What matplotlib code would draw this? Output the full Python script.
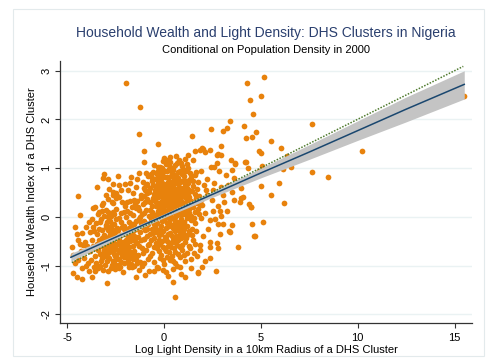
import matplotlib
matplotlib.use('Agg')
import matplotlib.pyplot as plt
from matplotlib.patches import Rectangle
import numpy as np

plt.rcParams['font.family'] = ['Liberation Sans', 'DejaVu Sans']
plt.rcParams['axes.unicode_minus'] = False

# (log light density, wealth index) per DHS cluster
outer_pts = [
    (-1.96, 2.74), (-1.24, 2.26), (-1.29, 1.71), (-1.0, 1.35), (-1.0, 1.12), (-0.29, 1.50),
    (1.46, 1.66), (2.42, 1.81), (3.40, 1.96), (3.06, 1.77), (3.28, 1.83), (4.29, 2.74),
    (4.42, 2.40), (4.60, 2.11), (5.15, 2.88), (5.0, 2.49), (4.16, 1.87), (4.26, 1.62),
    (4.54, 1.64), (4.74, 1.75), (4.90, 1.36), (5.02, 1.31), (4.21, 1.12), (4.35, 1.0),
    (3.68, 1.10), (3.44, 1.17), (2.97, 1.27), (2.77, 1.29), (2.94, 1.46), (2.37, 1.38),
    (5.04, 1.04), (4.86, 0.88), (5.0, 0.64), (4.0, 0.59), (3.64, 0.79), (4.06, 0.40),
    (-4.42, 0.42), (-3.47, 0.62), (-3.16, 0.79), (-3.08, 0.88), (-2.89, 0.77), (-2.39, 0.83),
    (-2.32, 0.66), (-2.82, 0.57), (-2.64, 0.52), (-2.49, 0.49), (-2.44, 0.42), (-1.70, 0.81),
    (-1.43, 0.62), (-1.30, 0.91), (-0.94, 0.90), (-0.67, 0.86), (-0.63, 0.79), (-0.29, 1.03),
    (-0.07, 1.14), (0.0, 1.20), (0.22, 1.17), (0.34, 1.23), (0.65, 1.24), (0.79, 1.17),
    (1.08, 1.18), (1.27, 1.27), (1.48, 1.17), (1.63, 1.36), (1.86, 1.38), (2.0, 1.40),
    (2.10, 1.33), (2.41, 1.03), (2.72, 1.10), (7.63, 1.90), (5.55, 1.55), (6.05, 1.42),
    (6.34, 1.24), (10.21, 1.36), (4.81, 0.86), (6.15, 0.98), (6.55, 1.02), (7.64, 0.92),
    (8.49, 0.81), (5.94, 0.70), (5.55, 0.45), (15.48, 2.48), (6.2, 0.28), (4.48, 0.21),
    (4.55, -0.14), (5.12, -0.10), (4.67, -0.39), (-4.33, 0.04), (-4.59, -0.20), (-4.76, -0.61),
    (-4.71, -0.78), (-4.68, -1.16), (-4.47, -1.24), (-4.24, -1.28), (-4.45, -0.88), (-2.95, -1.36),
    (-1.46, -1.23), (0.57, -1.64), (0.48, -1.33), (1.10, -1.23), (1.77, -1.16), (2.68, -1.12),
    (1.99, -1.04), (2.37, -0.85), (2.77, -0.65), (3.83, -0.61), (3.52, -0.16), (3.37, -0.30),
    (3.97, 0.38), (4.38, 0.27), (0.22, -1.21), (-0.07, -1.10), (1.74, -1.14), (1.39, -1.05),
    (0.82, -1.02), (1.86, -0.68), (2.37, -0.61), (-3.73, -1.23), (-3.56, -1.12), (-3.85, -1.11),
    (-3.13, -1.09), (-2.30, -1.05), (-1.66, -1.04), (-0.98, -1.19), (-0.76, -1.12), (-0.50, -1.11),
    (-0.38, -1.02), (-2.61, -1.02), (-3.30, -1.00), (-4.02, -1.00), (-3.64, 0.18), (-3.56, 0.21),
    (-3.13, 0.28), (-3.33, 0.09), (-3.85, -0.10), (-3.64, -0.20), (-4.24, -0.34), (-3.81, -0.32),
    (-4.42, -0.47), (-4.07, -0.51), (-4.16, -0.57), (-2.61, 0.45), (3.11, 0.31), (3.92, 0.31),
    (4.52, 0.20), (2.77, 0.23), (2.51, 0.11), (2.89, 0.13), (2.97, 0.01), (2.11, 0.08),
    (1.94, -0.03), (2.37, -0.06), (2.80, -0.14), (3.06, -0.15), (3.40, -0.31), (4.69, -0.40),
    (1.68, -0.30), (2.02, -0.40), (2.37, -0.51), (2.72, -0.54), (1.86, -0.57), (1.51, -0.47),
    (1.99, 1.41), (2.75, 1.27), (3.66, 1.08), (4.23, 1.12), (3.54, 0.97), (2.59, 1.03),
    (2.82, 0.94), (3.87, 0.72), (2.94, 0.62), (3.49, 0.50), (2.54, 0.55), (4.85, 0.90),
    (4.90, 0.95), (1.65, 0.92), (2.25, 0.78), (2.5, 0.35), (2.15, 0.55), (1.95, 0.25),
    (2.3, -0.25), (2.6, 0.7), (3.2, 0.85), (3.05, 0.45), (1.7, -0.8), (2.1, -0.9),
    (1.55, -0.75), (2.9, -0.35), (3.25, 0.12), (2.65, -0.05), (3.6, 0.35), (3.3, 0.65),
]

left_pts = [
    (-3.2, 0.24), (-2.9, 0.36), (-2.6, 0.28), (-2.3, 0.41), (-2.0, 0.22), (-1.75, 0.33),
    (-1.5, 0.26), (-1.2, 0.38), (-2.15, 0.3), (-1.35, 0.21), (-3.4, 0.05), (-3.0, 0.14),
    (-2.75, 0.02), (-2.45, 0.17), (-2.2, 0.08), (-1.9, 0.12), (-1.6, 0.03), (-1.3, 0.15),
    (-2.6, 0.1), (-1.45, 0.19), (-1.15, 0.06), (-3.5, -0.12), (-3.25, -0.05), (-3.0, -0.17),
    (-2.8, -0.08), (-2.55, -0.14), (-2.3, -0.02), (-2.05, -0.19), (-1.8, -0.1), (-1.55, -0.15),
    (-1.3, -0.04), (-2.9, -0.01), (-1.7, -0.18), (-1.2, -0.13), (-3.6, -0.3), (-3.35, -0.24),
    (-3.1, -0.37), (-2.9, -0.27), (-2.65, -0.33), (-2.4, -0.22), (-2.2, -0.38), (-1.95, -0.29),
    (-1.7, -0.35), (-1.45, -0.25), (-1.25, -0.32), (-3.0, -0.21), (-2.5, -0.39), (-2.05, -0.26),
    (-1.55, -0.39), (-3.7, -0.48), (-3.45, -0.56), (-3.2, -0.44), (-3.0, -0.53), (-2.75, -0.46),
    (-2.55, -0.58), (-2.35, -0.42), (-2.1, -0.51), (-1.9, -0.57), (-1.65, -0.45), (-1.4, -0.54),
    (-1.2, -0.47), (-3.3, -0.59), (-2.85, -0.41), (-2.25, -0.55), (-1.75, -0.5), (-3.8, -0.71),
    (-3.55, -0.64), (-3.3, -0.77), (-3.1, -0.68), (-2.9, -0.74), (-2.7, -0.62), (-2.45, -0.79),
    (-2.25, -0.66), (-2.0, -0.73), (-1.8, -0.61), (-1.55, -0.7), (-1.35, -0.78), (-1.15, -0.65),
    (-3.4, -0.69), (-2.6, -0.72), (-2.1, -0.63), (-1.65, -0.76), (-3.75, -0.88), (-3.5, -0.95),
    (-3.2, -0.84), (-2.95, -0.91), (-2.7, -0.98), (-2.45, -0.86), (-2.2, -0.93), (-1.95, -0.82),
    (-1.7, -0.96), (-1.45, -0.87), (-1.25, -0.92), (-3.05, -0.81), (-2.35, -0.99), (-1.85, -0.89),
    (-3.4, -1.06), (-2.9, -1.12), (-2.5, -1.08), (-2.1, -1.14), (-1.8, -1.03), (-1.3, -1.1),
    (-4.6, -0.95), (-4.3, -0.7), (-4.1, -0.85), (-3.95, -0.6), (-4.5, -0.35), (-4.2, -1.05),
    (-3.9, -0.95), (-4.0, -0.2), (-4.35, -0.55), (-3.7, -0.05), (-1.2, 0.45), (-0.95, 0.55),
    (-1.1, 0.72), (-0.85, 0.68), (-1.55, 0.35), (-1.85, 0.55), (-2.0, 0.68), (-1.6, 0.48),
    (-3.15, -0.6), (-2.95, -0.62), (-2.8, -0.55), (-2.65, -0.5), (-2.5, -0.64), (-2.4, -0.55),
    (-2.15, -0.6), (-1.98, -0.48), (-1.85, -0.68), (-1.6, -0.6), (-3.25, -0.9), (-3.05, -0.98),
    (-2.85, -0.84), (-2.6, -0.9), (-2.5, -0.81), (-2.3, -0.86), (-2.05, -0.95), (-1.9, -0.77),
    (-1.6, -0.86), (-1.4, -0.95), (-3.2, -0.28), (-3.05, -0.42), (-2.8, -0.36), (-2.7, -0.24),
    (-2.45, -0.3), (-2.3, -0.47), (-2.15, -0.2), (-1.85, -0.4), (-1.6, -0.3), (-1.35, -0.42),
    (-3.3, -0.1), (-3.1, 0.02), (-2.95, -0.1), (-2.68, -0.15), (-2.45, -0.05), (-2.2, -0.1),
    (-1.95, 0.0), (-1.75, 0.08), (-1.45, -0.08), (-1.25, 0.0), (-3.55, -0.8), (-3.6, -1.02),
    (-3.45, -0.35), (-3.65, -0.6), (-3.35, -0.48), (-3.15, -0.75), (-2.75, -0.7), (-2.55, -0.95),
    (-2.35, -0.68), (-2.15, -0.78), (-1.95, -0.6), (-1.75, -0.85), (-1.5, -0.5), (-1.3, -0.6),
    (-1.1, -0.75), (-1.05, -0.45), (-1.1, -0.2), (-1.0, -0.95), (-1.15, -1.0), (-1.55, -1.0),
    (-2.85, -0.2), (-2.6, -0.42), (-2.35, -0.28), (-2.0, -0.36), (-1.8, -0.22), (-1.65, -0.15),
    (-2.55, 0.05), (-2.05, 0.1), (-2.9, 0.1), (-3.2, 0.12), (-2.7, 0.3), (-2.45, 0.38),
    (-1.9, 0.3), (-1.65, 0.2), (-1.4, 0.32), (-3.0, 0.45), (-2.2, 0.55), (-1.75, 0.7),
    (-1.4, 0.78), (-2.6, 0.68), (-3.0, -0.7), (-2.85, -0.62), (-2.55, -0.76), (-2.25, -0.72),
    (-2.05, -0.82), (-1.85, -0.95), (-1.7, -0.72), (-1.5, -0.78), (-2.75, -1.05), (-2.25, -1.02),
]

core_pts = [
    (-0.5, 1.06), (-0.2, 1.02), (0.1, 1.09), (0.45, 1.01), (0.7, 1.11), (0.95, 1.04),
    (1.2, 1.08), (0.3, 1.13), (-0.1, 1.0), (-0.8, 0.84), (-0.55, 0.93), (-0.35, 0.88),
    (-0.05, 0.97), (0.15, 0.82), (0.4, 0.91), (0.55, 0.86), (0.85, 0.95), (1.05, 0.83),
    (1.35, 0.9), (1.6, 0.85), (0.25, 0.98), (0.7, 0.81), (-0.25, 0.8), (1.9, 0.94),
    (-0.9, 0.66), (-0.6, 0.73), (-0.4, 0.62), (-0.15, 0.77), (0.0, 0.68), (0.2, 0.71),
    (0.35, 0.64), (0.5, 0.78), (0.65, 0.69), (0.8, 0.61), (0.95, 0.74), (1.1, 0.67),
    (1.3, 0.76), (1.5, 0.63), (1.75, 0.72), (2.05, 0.66), (0.1, 0.61), (0.45, 0.7),
    (0.75, 0.79), (-0.3, 0.7), (1.2, 0.6), (-1.0, 0.43), (-0.75, 0.52), (-0.5, 0.47),
    (-0.3, 0.58), (-0.1, 0.41), (0.05, 0.55), (0.2, 0.49), (0.3, 0.42), (0.45, 0.57),
    (0.6, 0.46), (0.7, 0.53), (0.85, 0.44), (1.0, 0.59), (1.15, 0.48), (1.3, 0.41),
    (1.45, 0.54), (1.6, 0.47), (1.8, 0.42), (0.15, 0.58), (0.55, 0.4), (0.9, 0.51),
    (-0.2, 0.48), (0.4, 0.5), (2.2, 0.45), (-1.1, 0.27), (-0.85, 0.36), (-0.6, 0.22),
    (-0.45, 0.33), (-0.25, 0.25), (-0.05, 0.38), (0.1, 0.29), (0.25, 0.21), (0.35, 0.35),
    (0.5, 0.27), (0.6, 0.39), (0.75, 0.24), (0.9, 0.32), (1.05, 0.26), (1.2, 0.37),
    (1.35, 0.23), (1.55, 0.31), (1.7, 0.28), (0.0, 0.22), (0.4, 0.3), (0.65, 0.31),
    (0.85, 0.38), (1.0, 0.21), (0.2, 0.36), (-0.15, 0.3), (1.9, 0.35), (-1.0, 0.07),
    (-0.7, 0.15), (-0.5, 0.03), (-0.3, 0.12), (-0.1, 0.18), (0.05, 0.05), (0.2, 0.14),
    (0.3, 0.01), (0.45, 0.09), (0.55, 0.19), (0.7, 0.04), (0.8, 0.12), (0.95, 0.17),
    (1.1, 0.06), (1.25, 0.13), (1.4, 0.02), (1.6, 0.1), (0.1, 0.11), (0.35, 0.17),
    (0.6, 0.08), (0.9, 0.03), (-0.2, 0.06), (0.25, 0.08), (1.75, 0.16), (-1.05, -0.08),
    (-0.8, -0.15), (-0.55, -0.03), (-0.35, -0.12), (-0.15, -0.18), (0.0, -0.06), (0.15, -0.13),
    (0.3, -0.02), (0.45, -0.17), (0.6, -0.09), (0.75, -0.14), (0.9, -0.04), (1.05, -0.11),
    (1.2, -0.19), (1.4, -0.07), (0.2, -0.19), (0.5, -0.05), (0.8, -0.1), (-0.45, -0.19),
    (1.6, -0.13), (-0.95, -0.27), (-0.7, -0.35), (-0.45, -0.24), (-0.25, -0.38), (-0.05, -0.29),
    (0.1, -0.22), (0.3, -0.33), (0.5, -0.26), (0.65, -0.39), (0.85, -0.23), (1.0, -0.31),
    (1.2, -0.37), (1.45, -0.25), (0.2, -0.36), (0.55, -0.3), (-0.35, -0.31), (0.95, -0.4),
    (-1.0, -0.46), (-0.75, -0.55), (-0.5, -0.43), (-0.3, -0.58), (-0.1, -0.49), (0.1, -0.41),
    (0.3, -0.53), (0.45, -0.47), (0.7, -0.57), (0.9, -0.44), (1.1, -0.52), (1.3, -0.59),
    (0.2, -0.6), (0.6, -0.42), (-0.2, -0.55), (-0.9, -0.68), (-0.6, -0.75), (-0.35, -0.63),
    (-0.15, -0.79), (0.05, -0.66), (0.25, -0.72), (0.5, -0.64), (0.75, -0.77), (0.95, -0.69),
    (1.2, -0.74), (0.4, -0.8), (-0.5, -0.61), (-0.8, -0.86), (-0.5, -0.93), (-0.2, -0.84),
    (0.0, -0.97), (0.3, -0.88), (0.55, -0.95), (0.85, -0.83), (1.1, -0.91), (1.4, -0.87),
    (0.15, -0.82), (-0.3, -1.05), (0.1, -1.14), (0.45, -1.08), (0.9, -1.17),
    (0.02, 0.47), (0.12, 0.33), (0.27, 0.56), (0.38, 0.24), (0.48, 0.62), (0.58, 0.15),
    (0.68, 0.43), (0.78, 0.52), (0.88, 0.27), (0.98, 0.09), (1.08, 0.41), (1.18, 0.22),
    (1.28, 0.55), (1.38, 0.32), (-0.08, 0.58), (-0.18, 0.2), (-0.28, 0.41), (-0.38, 0.05),
    (-0.48, 0.55), (-0.58, 0.38), (0.07, -0.03), (0.17, 0.03), (0.28, -0.1), (0.38, 0.12),
    (0.48, -0.22), (0.58, -0.01), (0.68, 0.2), (0.78, -0.28), (0.88, 0.1), (0.98, -0.17),
    (1.08, 0.14), (1.18, -0.02), (1.32, 0.08), (-0.02, 0.1), (-0.12, -0.08), (-0.22, -0.25),
    (-0.32, 0.02), (-0.42, 0.22), (-0.52, -0.14), (-0.62, 0.09), (0.05, 0.82), (0.15, 0.95),
    (0.25, 0.73), (0.37, 0.84), (0.47, 0.97), (0.6, 0.75), (0.72, 0.92), (0.82, 0.71),
    (0.92, 0.88), (1.02, 0.76), (1.12, 0.94), (1.25, 0.69), (1.42, 0.81), (-0.12, 0.87),
    (-0.45, 0.77), (-0.65, 0.88), (-0.7, 0.6), (0.33, 1.02), (0.6, 1.06), (0.87, 1.1),
    (0.05, -0.42), (0.18, -0.5), (0.28, -0.19), (0.4, -0.4), (0.52, -0.52), (0.62, -0.2),
    (0.72, -0.47), (0.82, -0.36), (0.92, -0.58), (1.02, -0.24), (1.12, -0.44), (1.32, -0.3),
    (-0.05, -0.62), (-0.15, -0.36), (-0.27, -0.47), (-0.4, -0.53), (-0.55, -0.33), (-0.65, -0.48),
    (-0.85, -0.4), (-0.8, -0.58), (0.12, -0.7), (0.35, -0.62), (0.6, -0.72), (0.82, -0.62),
    (1.05, -0.78), (-0.25, -0.7), (-0.7, -0.8), (0.45, -0.9), (0.7, -1.0), (-0.05, -0.88),
    (1.5, 0.2), (1.65, 0.38), (1.55, -0.02), (1.7, 0.58), (1.5, 0.73), (1.82, 0.05),
    (1.85, 0.25), (1.45, -0.38), (1.6, -0.55), (1.35, -0.65), (-0.9, 0.15), (-0.95, -0.12),
    (-0.88, 0.48), (-0.72, 0.3), (-0.68, -0.05), (-0.95, 0.3), (-1.05, 0.6), (-0.85, -0.25),
    (-0.62, -0.25), (-0.78, 0.02), (0.08, 0.4), (0.22, 0.63), (0.42, 0.38), (0.52, 0.5),
    (0.63, 0.57), (0.73, 0.35), (0.83, 0.6), (0.95, 0.42), (1.05, 0.5), (1.22, 0.47),
    (0.03, 0.15), (0.14, 0.24), (0.32, 0.26), (0.42, 0.45), (0.52, 0.13), (0.63, 0.29),
    (0.8, 0.2), (0.93, 0.23), (1.15, 0.3), (1.3, 0.16), (-0.05, 0.3), (-0.12, 0.7),
    (-0.35, 0.5), (-0.4, 0.3), (-0.55, 0.65), (-0.2, 0.62), (0.0, 0.95), (-0.3, 0.95),
    (1.0, 0.99), (1.25, 1.0),
]

# fitted values with 95% confidence band
fit_x = [-4.8, -2.5, 0.0, 2.5, 5.0, 7.5, 10.0, 12.5, 15.5]
fit_y = [-0.83, -0.42, 0.02, 0.46, 0.90, 1.33, 1.77, 2.21, 2.72]
ci_low = [-0.91, -0.47, -0.02, 0.40, 0.80, 1.18, 1.57, 1.95, 2.42]
ci_high = [-0.75, -0.37, 0.06, 0.52, 1.00, 1.48, 1.97, 2.46, 3.00]

# unconditional fit (dotted)
raw_x = [-4.75, 15.45]
raw_y = [-0.94, 3.09]

W, H = 493, 362
fig = plt.figure(figsize=(W / 100, H / 100), dpi=100)
fig.patches.append(Rectangle((13 / W, 1 - 356 / H), (484 - 13) / W, (356 - 9) / H,
                             transform=fig.transFigure, fill=False,
                             edgecolor='#E3EAEC', lw=0.8))

ax = fig.add_axes([60 / W, 1 - 323 / H, (472 - 60) / W, (323 - 61) / H])

pts = np.array(outer_pts + left_pts + core_pts)
ax.scatter(pts[:, 0], pts[:, 1], s=17, color='#E8820C', linewidths=0, zorder=2)

ax.fill_between(fit_x, ci_low, ci_high, color='#C4C4C4', lw=0, zorder=3)
ax.plot(raw_x, raw_y, color='#4F7A2E', lw=1.1, ls=(0, (1, 1)), zorder=4)
ax.plot(fit_x, fit_y, color='#1A476F', lw=1.1, zorder=5)

ax.set_xlim(-5.36, 15.9)
ax.set_ylim(-2.18, 3.2)
ax.set_xticks([-5, 0, 5, 10, 15])
ax.set_yticks([-2, -1, 0, 1, 2, 3])
ax.set_yticklabels(['-2', '-1', '0', '1', '2', '3'], rotation=90, va='center')
ax.yaxis.grid(True, color='#EAF2F3', lw=1)
ax.set_axisbelow(True)

for side in ['top', 'right']:
    ax.spines[side].set_visible(False)
for side in ['left', 'bottom']:
    ax.spines[side].set_color('#333333')
    ax.spines[side].set_linewidth(0.9)

ax.tick_params(axis='both', length=3.6, width=0.8, color='#333333', labelsize=8)
ax.tick_params(axis='x', pad=3.5)
ax.tick_params(axis='y', pad=2.5)

ax.set_xlabel('Log Light Density in a 10km Radius of a DHS Cluster', fontsize=8)
ax.set_ylabel('Household Wealth Index of a DHS Cluster', fontsize=8)
ax.xaxis.set_label_coords(0.5, (323 - 350) / (323 - 61))
ax.xaxis.label.set_va('center')
ax.yaxis.set_label_coords((32 - 60) / (472 - 60), 0.5)
ax.yaxis.label.set_va('center')

fig.text(266 / W, 1 - 33 / H, 'Household Wealth and Light Density: DHS Clusters in Nigeria',
         ha='center', va='center', fontsize=10, color='#2A3F6E')
fig.text(266 / W, 1 - 50 / H, 'Conditional on Population Density in 2000',
         ha='center', va='center', fontsize=8, color='black')

fig.savefig('out.png', dpi=100)
